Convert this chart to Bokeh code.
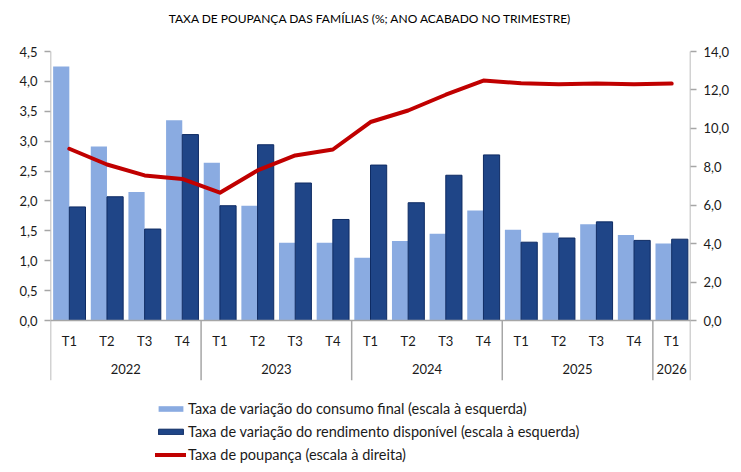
from bokeh.plotting import figure
from bokeh.models import (Range1d, LinearAxis, FixedTicker, Legend, LegendItem,
                          ColumnDataSource, CustomJSTickFormatter, Label)
from bokeh.embed import file_html
from bokeh.resources import INLINE
from bokeh.core.properties import value

years = ["2022", "2022", "2022", "2022", "2023", "2023", "2023", "2023",
         "2024", "2024", "2024", "2024", "2025", "2025", "2025", "2025", "2026"]
quarters = ["T1", "T2", "T3", "T4", "T1", "T2", "T3", "T4",
            "T1", "T2", "T3", "T4", "T1", "T2", "T3", "T4", "T1"]
consumo = [4.25, 2.91, 2.15, 3.35, 2.64, 1.92, 1.30, 1.30,
           1.05, 1.33, 1.45, 1.84, 1.52, 1.47, 1.61, 1.43, 1.29]
rendimento = [1.90, 2.07, 1.53, 3.11, 1.92, 2.94, 2.30, 1.69,
              2.60, 1.97, 2.43, 2.77, 1.31, 1.38, 1.65, 1.34, 1.36]
poupanca = [8.94, 8.12, 7.55, 7.37, 6.65, 7.81, 8.59, 8.90,
            10.33, 10.93, 11.75, 12.49, 12.35, 12.29, 12.33, 12.29, 12.33]
left_ticks = [0.0, 0.5, 1.0, 1.5, 2.0, 2.5, 3.0, 3.5, 4.0, 4.5]
right_ticks = [0.0, 2.0, 4.0, 6.0, 8.0, 10.0, 12.0, 14.0]

title = "TAXA DE POUPANÇA DAS FAMÍLIAS (%; ANO ACABADO NO TRIMESTRE)"
leg_labels = ["Taxa de variação do consumo final (escala à esquerda)",
              "Taxa de variação do rendimento disponível (escala à esquerda)",
              "Taxa de poupança (escala à direita)"]

LIGHT = "#8AABE1"
DARK = "#1F4587"
DARK_EDGE = "#0E2B63"
RED = "#C00000"
AXIS = "#A6A6A6"
FONT = "Lato"

n = len(quarters)
x = [i + 0.5 for i in range(n)]
left_max = 4.5
right_max = 14.0
W, H = 733, 464
TOP, LEFT, FW = 51, 50, 640   # axis top (4,5) sits 51 px below the top edge
px_per_unit = 269 / left_max
left_top = left_max + TOP / px_per_unit
left_min = left_max - (H - TOP) / px_per_unit
right_top = left_top * right_max / left_max
right_min = left_min * right_max / left_max
sep_bottom = -1.0

src = ColumnDataSource(dict(x=x, xl=[v - 0.215 for v in x], xr=[v + 0.215 for v in x],
                            consumo=consumo, rendimento=rendimento,
                            poupanca=poupanca, q=quarters))

p = figure(width=W, height=H, output_backend="svg", toolbar_location=None,
           x_range=Range1d(0, n), y_range=Range1d(left_min, left_top),
           min_border_left=LEFT, min_border_right=W - LEFT - FW,
           min_border_top=0, min_border_bottom=0,
           background_fill_color="white", border_fill_color="white",
           outline_line_color=None)
p.extra_y_ranges = {"right": Range1d(right_min, right_top)}
p.grid.visible = False
p.xaxis.visible = False
p.yaxis.visible = False

p.add_layout(Label(x=FW / 2, y=H - 18, x_units="screen", y_units="screen",
                   text=title, text_align="center", text_baseline="middle",
                   text_font=FONT, text_font_size="12px", text_color="#000000"))

fmt = CustomJSTickFormatter(code="return tick.toFixed(1).replace('.', ',');")

def style_axis(ax, ticks):
    ax.ticker = FixedTicker(ticks=ticks)
    ax.formatter = fmt
    ax.axis_line_color = None
    ax.major_tick_line_color = AXIS
    ax.major_tick_line_width = 1.5
    ax.major_tick_in = 0
    ax.major_tick_out = 6
    ax.minor_tick_line_color = None
    ax.major_label_text_font = FONT
    ax.major_label_text_font_size = "13px"
    ax.major_label_text_color = "#1A1A1A"
    ax.major_label_standoff = 7

la = LinearAxis()
style_axis(la, left_ticks)
p.add_layout(la, "left")
ra = LinearAxis(y_range_name="right")
style_axis(ra, right_ticks)
p.add_layout(ra, "right")

b1 = p.vbar(x="xl", top="consumo", bottom=0, width=0.43, source=src,
            fill_color=LIGHT, line_color=None)
b2 = p.vbar(x="xr", top="rendimento", bottom=0, width=0.43, source=src,
            fill_color=DARK, line_color=DARK_EDGE, line_width=1)
ln = p.line(x="x", y="poupanca", y_range_name="right", source=src,
            line_color=RED, line_width=4, line_join="round", line_cap="round")

# axis lines, baseline, year separators
p.segment(x0=[0, n], y0=[left_max, left_max], x1=[0, n], y1=[sep_bottom, sep_bottom],
          line_color=AXIS, line_width=1.5)
p.segment(x0=[0], y0=[0], x1=[n], y1=[0], line_color=AXIS, line_width=1.5)
bounds = [i for i in range(1, n) if years[i] != years[i - 1]]
p.segment(x0=bounds, y0=[0] * len(bounds), x1=bounds, y1=[sep_bottom] * len(bounds),
          line_color=AXIS, line_width=1.5)
p.text(x="x", y=-0.34, text="q", source=src, text_align="center",
       text_baseline="middle", text_font=value(FONT), text_font_size="13px",
       text_color="#1A1A1A")
uy = []
for y in years:
    if y not in uy:
        uy.append(y)
yc = [sum(x[i] for i in range(n) if years[i] == y) / years.count(y) for y in uy]
p.text(x=yc, y=[-0.81] * len(uy), text=uy, text_align="center",
       text_baseline="middle", text_font=value(FONT), text_font_size="13px",
       text_color="#1A1A1A")

legend = Legend(items=[LegendItem(label=leg_labels[0], renderers=[b1]),
                       LegendItem(label=leg_labels[1], renderers=[b2]),
                       LegendItem(label=leg_labels[2], renderers=[ln])],
                orientation="vertical", location=(105, 1),
                glyph_width=31, glyph_height=7, label_height=16, spacing=6,
                padding=0, margin=0, label_standoff=2,
                label_text_font=FONT, label_text_font_size="14.5px",
                label_text_color="#1A1A1A", border_line_color=None,
                background_fill_alpha=0)
p.add_layout(legend, "center")

open("out.html", "w").write(file_html(p, INLINE))
